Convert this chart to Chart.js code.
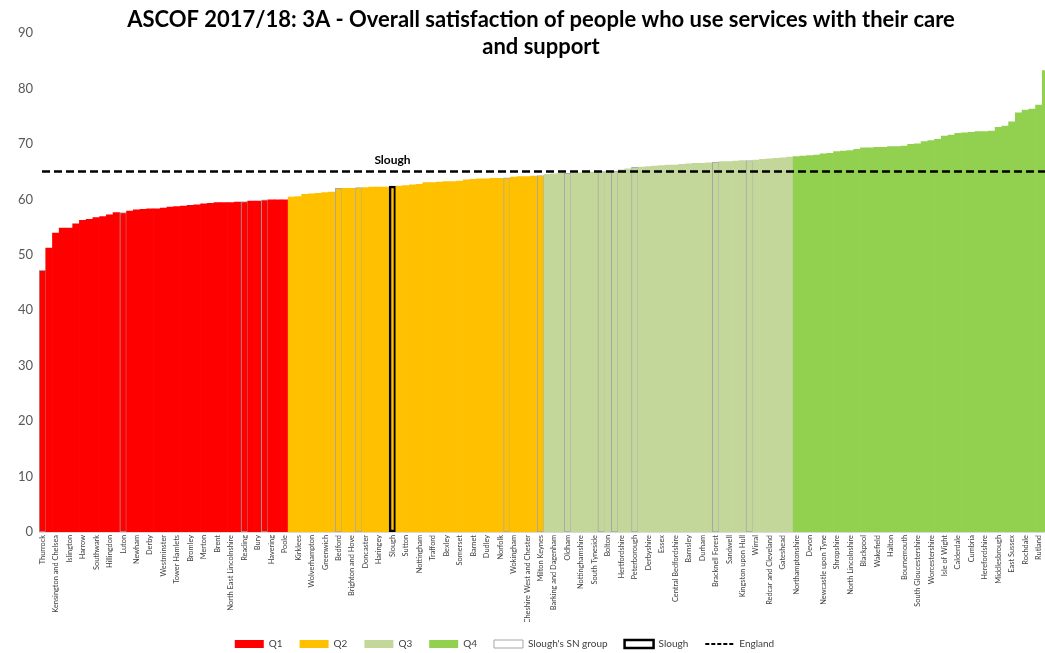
<!DOCTYPE html>
<html lang="en">
<head>
<meta charset="UTF-8">
<title>ASCOF 2017/18: 3A</title>
<script src="https://cdn.jsdelivr.net/npm/chart.js"></script>
<style>
    html, body { margin: 0; padding: 0; background: #fff; overflow: hidden; }
    .chart-box { position: relative; width: 1049px; height: 659px; }
</style>
</head>
<body>
<div class="chart-box"><canvas id="satChart" width="1049" height="659"></canvas></div>
<script>
// names printed under the axis (Excel labels every second bar)
const shownNames = [
    'Thurrock', 'Kensington and Chelsea', 'Islington', 'Harrow', 'Southwark', 'Hillingdon', 'Luton',
    'Newham', 'Derby', 'Westminster', 'Tower Hamlets', 'Bromley', 'Merton', 'Brent',
    'North East Lincolnshire', 'Reading', 'Bury', 'Havering', 'Poole',
    'Kirklees', 'Wolverhampton', 'Greenwich', 'Bedford', 'Brighton and Hove', 'Doncaster', 'Haringey',
    'Slough', 'Sutton', 'Nottingham', 'Trafford', 'Bexley', 'Somerset', 'Barnet', 'Dudley', 'Norfolk',
    'Wokingham', 'Cheshire West and Chester', 'Milton Keynes',
    'Barking and Dagenham', 'Oldham', 'Nottinghamshire', 'South Tyneside', 'Bolton', 'Hertfordshire',
    'Peterborough', 'Derbyshire', 'Essex', 'Central Bedfordshire', 'Barnsley', 'Durham', 'Bracknell Forest',
    'Sandwell', 'Kingston upon Hull', 'Wirral', 'Redcar and Cleveland', 'Gateshead',
    'Northamptonshire', 'Devon', 'Newcastle upon Tyne', 'Shropshire', 'North Lincolnshire', 'Blackpool',
    'Wakefield', 'Halton', 'Bournemouth', 'South Gloucestershire', 'Worcestershire', 'Isle of Wight',
    'Calderdale', 'Cumbria', 'Herefordshire', 'Middlesbrough', 'East Sussex', 'Rochdale', 'Rutland'
];

// % satisfied, sorted, one array per quartile
const q1Values = [47.2, 51.2, 53.9, 54.8, 54.8, 55.6, 56.2, 56.4, 56.7, 56.9, 57.2, 57.6, 57.6, 57.9,
    58.1, 58.2, 58.3, 58.3, 58.4, 58.6, 58.7, 58.8, 58.9, 59.0, 59.2, 59.3, 59.4, 59.4, 59.4, 59.5,
    59.6, 59.7, 59.7, 59.9, 59.9, 59.9, 59.9];
const q2Values = [60.4, 60.5, 60.9, 61.0, 61.1, 61.2, 61.3, 62.0, 62.0, 62.0, 62.1, 62.1, 62.2, 62.2,
    62.2, 62.4, 62.4, 62.5, 62.6, 62.7, 63.0, 63.0, 63.1, 63.2, 63.2, 63.3, 63.5, 63.6, 63.7, 63.7,
    63.8, 63.8, 63.9, 64.0, 64.1, 64.1, 64.2, 64.3];
const q3Values = [64.5, 64.6, 64.7, 64.7, 64.8, 64.8, 64.9, 64.9, 65.0, 65.1, 65.1, 65.3, 65.5, 65.8,
    65.8, 65.9, 66.0, 66.1, 66.2, 66.2, 66.3, 66.4, 66.5, 66.5, 66.6, 66.7, 66.8, 66.8, 66.9, 67.0,
    67.0, 67.1, 67.2, 67.3, 67.4, 67.5, 67.6];
const q4Values = [67.7, 67.8, 67.9, 68.0, 68.2, 68.3, 68.6, 68.7, 68.8, 69.0, 69.3, 69.3, 69.4, 69.4,
    69.5, 69.5, 69.6, 69.9, 70.0, 70.4, 70.6, 70.8, 71.4, 71.6, 71.9, 72.0, 72.1, 72.2, 72.2, 72.3,
    73.0, 73.2, 74.0, 75.6, 76.1, 76.3, 77.0, 83.2];

const englandValue = 65.0;
const sloughBar = 52;                       // position of Slough in the sorted list
const snGroupBars = [0, 12, 30, 33, 44, 47, 69, 74, 78, 83, 85, 88, 100, 105];
const quartileLabels = ['Q1', 'Q2', 'Q3', 'Q4'];
const quartileColors = ['#FF0000', '#FFC000', '#C4D79B', '#92D050'];

// put it together
const quartiles = [q1Values, q2Values, q3Values, q4Values];
const values = [].concat(...quartiles);
const barColors = [];
quartiles.forEach((q, k) => q.forEach(() => barColors.push(quartileColors[k])));
const labels = values.map((v, i) => (i % 2 === 0 && shownNames[i / 2]) ? shownNames[i / 2] : '');
const borderColors = values.map((v, i) => i === sloughBar ? '#000000' : (snGroupBars.includes(i) ? '#A6A6A6' : 'rgba(0,0,0,0)'));
const borderWidths = values.map((v, i) => i === sloughBar ? 2.5 : (snGroupBars.includes(i) ? 1 : 0));

const FONT = 'Lato, "Open Sans", sans-serif';

// title sits over the plot like in Excel, plus England line and Slough tag
const extras = {
    id: 'extras',
    afterLayout(chart) {
        // Excel's legend sits a little left of centre
        chart.legend.left -= 20;
        chart.legend.right -= 20;
    },
    afterDatasetsDraw(chart) {
        const {ctx, chartArea, scales} = chart;
        const y = scales.y.getPixelForValue(englandValue);
        ctx.save();
        ctx.strokeStyle = '#000';
        ctx.lineWidth = 2.5;
        ctx.setLineDash([8, 4]);
        ctx.beginPath();
        ctx.moveTo(chartArea.left + 3, y);
        ctx.lineTo(chartArea.right, y);
        ctx.stroke();
        ctx.setLineDash([]);
        ctx.fillStyle = '#000';
        ctx.font = 'bold 12px ' + FONT;
        ctx.textAlign = 'center';
        ctx.textBaseline = 'alphabetic';
        ctx.fillText('Slough', scales.x.getPixelForValue(sloughBar), y - 8);

        const cx = (chartArea.left + chartArea.right) / 2 - 3;
        ctx.font = 'bold 22px ' + FONT;
        ctx.textBaseline = 'middle';
        ctx.fillText('ASCOF 2017/18: 3A - Overall satisfaction of people who use services with their care', cx, 20);
        ctx.fillText('and support', cx, 47);
        ctx.restore();
    }
};

new Chart(document.getElementById('satChart').getContext('2d'), {
    type: 'bar',
    data: {
        labels: labels,
        datasets: [{
            data: values,
            backgroundColor: barColors,
            borderColor: borderColors,
            borderWidth: borderWidths,
            borderSkipped: false,
            categoryPercentage: 1,
            barPercentage: 1
        }]
    },
    options: {
        responsive: false,
        maintainAspectRatio: false,
        animation: false,
        devicePixelRatio: 1,
        layout: { padding: { top: 33, left: 0, right: 0, bottom: 0 } },
        plugins: {
            tooltip: { enabled: false },
            legend: {
                position: 'bottom',
                onClick: null,
                labels: {
                    usePointStyle: true,
                    pointStyleWidth: 29,
                    boxHeight: 8,
                    padding: 17,
                    color: '#404040',
                    font: { family: FONT, size: 10 },
                    generateLabels: () => {
                        const items = quartileLabels.map((q, k) => ({
                            text: q, fillStyle: quartileColors[k], strokeStyle: quartileColors[k],
                            lineWidth: 0, pointStyle: 'rect', fontColor: '#404040'
                        }));
                        items.push({ text: "Slough's SN group", fillStyle: '#fff', strokeStyle: '#A6A6A6', lineWidth: 1, pointStyle: 'rect', fontColor: '#404040' });
                        items.push({ text: 'Slough', fillStyle: '#fff', strokeStyle: '#000', lineWidth: 2.5, pointStyle: 'rect', fontColor: '#404040' });
                        items.push({ text: 'England', fillStyle: '#000', strokeStyle: '#000', lineWidth: 2, lineDash: [4, 2], pointStyle: 'line', fontColor: '#404040' });
                        return items;
                    }
                }
            }
        },
        scales: {
            x: {
                grid: { display: false, drawTicks: false },
                border: { display: true, color: '#D9D9D9' },
                ticks: {
                    autoSkip: false,
                    minRotation: 90,
                    maxRotation: 90,
                    padding: 3,
                    color: '#404040',
                    font: { family: FONT, size: 7.4 }
                },
                afterFit: s => {
                    s.height = 90;
                    s.paddingLeft = 0;
                    s.paddingRight = 0;
                }
            },
            y: {
                min: 0,
                max: 90,
                grid: { display: false, drawTicks: false },
                border: { display: false },
                ticks: { stepSize: 10, padding: 6, color: '#595959', font: { family: FONT, size: 13 } },
                afterFit: s => { s.width = 39; }
            }
        }
    },
    plugins: [extras]
});
</script>
</body>
</html>
